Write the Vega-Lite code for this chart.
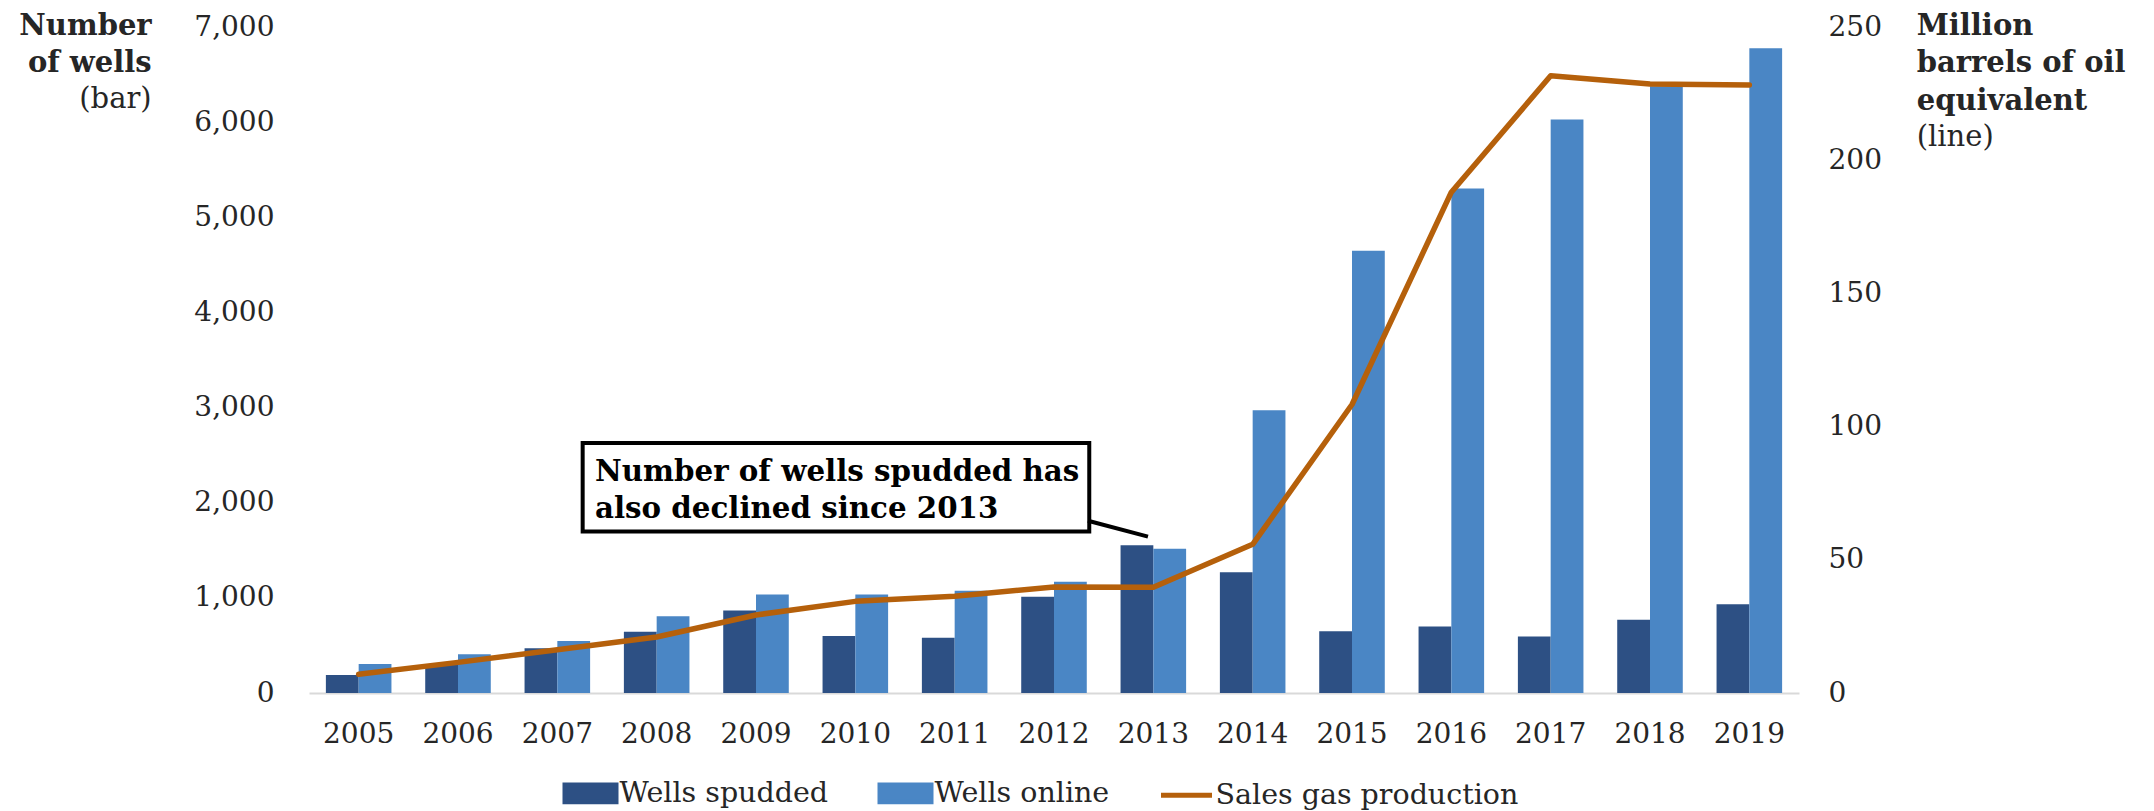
{
  "$schema": "https://vega.github.io/schema/vega-lite/v6.json",
  "width": 1490,
  "height": 666,
  "autosize": {"type": "none"},
  "padding": {"left": 309, "top": 27, "right": 355, "bottom": 118},
  "background": "white",
  "config": {"view": {"stroke": null}, "font": "DejaVu Serif"},
  "datasets": {
    "bars": [
      {"year": 2005, "series": "Wells spudded", "wells": 190},
      {"year": 2005, "series": "Wells online", "wells": 305},
      {"year": 2006, "series": "Wells spudded", "wells": 295},
      {"year": 2006, "series": "Wells online", "wells": 407},
      {"year": 2007, "series": "Wells spudded", "wells": 471},
      {"year": 2007, "series": "Wells online", "wells": 546},
      {"year": 2008, "series": "Wells spudded", "wells": 643},
      {"year": 2008, "series": "Wells online", "wells": 807},
      {"year": 2009, "series": "Wells spudded", "wells": 868},
      {"year": 2009, "series": "Wells online", "wells": 1036},
      {"year": 2010, "series": "Wells spudded", "wells": 600},
      {"year": 2010, "series": "Wells online", "wells": 1035},
      {"year": 2011, "series": "Wells spudded", "wells": 582},
      {"year": 2011, "series": "Wells online", "wells": 1075},
      {"year": 2012, "series": "Wells spudded", "wells": 1012},
      {"year": 2012, "series": "Wells online", "wells": 1170},
      {"year": 2013, "series": "Wells spudded", "wells": 1552},
      {"year": 2013, "series": "Wells online", "wells": 1517},
      {"year": 2014, "series": "Wells spudded", "wells": 1269},
      {"year": 2014, "series": "Wells online", "wells": 2971},
      {"year": 2015, "series": "Wells spudded", "wells": 650},
      {"year": 2015, "series": "Wells online", "wells": 4648},
      {"year": 2016, "series": "Wells spudded", "wells": 700},
      {"year": 2016, "series": "Wells online", "wells": 5302},
      {"year": 2017, "series": "Wells spudded", "wells": 594},
      {"year": 2017, "series": "Wells online", "wells": 6027},
      {"year": 2018, "series": "Wells spudded", "wells": 770},
      {"year": 2018, "series": "Wells online", "wells": 6378},
      {"year": 2019, "series": "Wells spudded", "wells": 932},
      {"year": 2019, "series": "Wells online", "wells": 6777}
    ],
    "gas": [
      {"year": 2005, "mboe": 7},
      {"year": 2006, "mboe": 11.5},
      {"year": 2007, "mboe": 16.2},
      {"year": 2008, "mboe": 21},
      {"year": 2009, "mboe": 29.3},
      {"year": 2010, "mboe": 34.4},
      {"year": 2011, "mboe": 36.3},
      {"year": 2012, "mboe": 39.8},
      {"year": 2013, "mboe": 39.7},
      {"year": 2014, "mboe": 55.8},
      {"year": 2015, "mboe": 108.3},
      {"year": 2016, "mboe": 188},
      {"year": 2017, "mboe": 231.7},
      {"year": 2018, "mboe": 228.6},
      {"year": 2019, "mboe": 228.2}
    ]
  },
  "resolve": {"scale": {"x": "independent", "y": "independent"}},
  "layer": [
    {
      "data": {"name": "bars"},
      "mark": {"type": "bar"},
      "encoding": {
        "x": {
          "field": "year", "type": "ordinal",
          "scale": {"paddingInner": 0.34, "paddingOuter": 0.17},
          "axis": {"title": null, "ticks": false, "domain": true, "domainColor": "#D9D9D9", "domainWidth": 2, "labelAngle": 0, "labelFont": "DejaVu Serif", "labelFontSize": 28, "labelColor": "#262626", "labelPadding": 41, "labelBaseline": "middle", "grid": false}
        },
        "xOffset": {"field": "series", "type": "nominal", "sort": ["Wells spudded", "Wells online"], "scale": {"paddingInner": 0, "paddingOuter": 0}},
        "y": {
          "field": "wells", "type": "quantitative",
          "scale": {"domain": [0, 7000], "nice": false},
          "axis": {"orient": "left", "values": [0, 1000, 2000, 3000, 4000, 5000, 6000, 7000], "format": ",d", "title": null, "ticks": false, "domain": false, "grid": false, "labelFont": "DejaVu Serif", "labelFontSize": 28, "labelColor": "#262626", "labelPadding": 35, "labelBaseline": "middle"}
        },
        "color": {
          "field": "series", "type": "nominal",
          "scale": {"domain": ["Wells spudded", "Wells online", "Sales gas production"], "range": ["#2D5084", "#4A86C5", "#B5600B"]},
          "legend": {
            "orient": "none", "legendX": 253.5, "legendY": 738, "direction": "horizontal", "columns": 3, "title": null, "padding": 0,
            "symbolType": "M-1,-0.327H1V0.327H-1Z", "symbolSize": 2601, "symbolStrokeWidth": 5,
            "labelFont": "DejaVu Serif", "labelFontSize": 28.5, "labelColor": "#262626", "labelOffset": 1, "columnPadding": 41, "labelLimit": 400,
            "encode": {
              "symbols": {
                "update": {
                  "shape": {"signal": "datum.value === 'Sales gas production' ? 'stroke' : 'M-1,-0.327H1V0.327H-1Z'"},
                  "fill": {"signal": "datum.value === 'Sales gas production' ? 'transparent' : scale('color', datum.value)"},
                  "stroke": {"signal": "datum.value === 'Sales gas production' ? scale('color', datum.value) : 'transparent'"},
                  "opacity": {"value": 1}
                }
              }
            }
          }
        }
      }
    },
    {
      "data": {"name": "gas"},
      "mark": {"type": "line", "strokeWidth": 5.5, "strokeCap": "round", "strokeJoin": "round"},
      "encoding": {
        "x": {"field": "year", "type": "quantitative", "scale": {"domain": [2004.5, 2019.5], "nice": false, "zero": false}, "axis": null},
        "y": {
          "field": "mboe", "type": "quantitative",
          "scale": {"domain": [0, 250], "nice": false},
          "axis": {"orient": "right", "values": [0, 50, 100, 150, 200, 250], "title": null, "ticks": false, "domain": false, "grid": false, "labelFont": "DejaVu Serif", "labelFontSize": 28, "labelColor": "#262626", "labelPadding": 29, "labelBaseline": "middle"}
        },
        "color": {"datum": "Sales gas production"}
      }
    },
    {
      "data": {"values": [{}]},
      "layer": [
        {
          "mark": {"type": "rect", "fill": "white", "stroke": "black", "strokeWidth": 4},
          "encoding": {
            "x": {"datum": 2007.255, "type": "quantitative", "scale": {"domain": [2004.5, 2019.5], "nice": false, "zero": false}, "axis": null},
            "x2": {"datum": 2012.355},
            "y": {"datum": 2628, "type": "quantitative", "scale": {"domain": [0, 7000], "nice": false}, "axis": null},
            "y2": {"datum": 1698}
          }
        },
        {
          "mark": {"type": "rule", "stroke": "black", "strokeWidth": 4},
          "encoding": {
            "x": {"datum": 2012.342, "type": "quantitative", "axis": null},
            "x2": {"datum": 2012.946},
            "y": {"datum": 1811, "type": "quantitative", "axis": null},
            "y2": {"datum": 1643}
          }
        },
        {
          "mark": {"type": "text", "font": "DejaVu Serif", "fontWeight": "bold", "fontSize": 29.3, "align": "left", "baseline": "alphabetic", "lineHeight": 36.6, "color": "black"},
          "encoding": {
            "x": {"datum": 2007.379, "type": "quantitative", "axis": null},
            "y": {"datum": 2224, "type": "quantitative", "axis": null},
            "text": {"value": ["Number of wells spudded has", "also declined since 2013"]}
          }
        },
        {
          "mark": {"type": "text", "font": "DejaVu Serif", "fontWeight": "bold", "fontSize": 29, "align": "right", "baseline": "alphabetic", "lineHeight": 37.7, "color": "#262626"},
          "encoding": {
            "x": {"datum": 2002.916, "type": "quantitative", "axis": null},
            "y": {"datum": 6919, "type": "quantitative", "axis": null},
            "text": {"value": ["Number", "of wells"]}
          }
        },
        {
          "mark": {"type": "text", "font": "DejaVu Serif", "fontSize": 29, "align": "right", "baseline": "alphabetic", "color": "#262626"},
          "encoding": {
            "x": {"datum": 2002.916, "type": "quantitative", "axis": null},
            "y": {"datum": 6152, "type": "quantitative", "axis": null},
            "text": {"value": "(bar)"}
          }
        },
        {
          "mark": {"type": "text", "font": "DejaVu Serif", "fontWeight": "bold", "fontSize": 29, "align": "left", "baseline": "alphabetic", "lineHeight": 37.5, "color": "#262626"},
          "encoding": {
            "x": {"datum": 2020.685, "type": "quantitative", "axis": null},
            "y": {"datum": 6919, "type": "quantitative", "axis": null},
            "text": {"value": ["Million", "barrels of oil", "equivalent"]}
          }
        },
        {
          "mark": {"type": "text", "font": "DejaVu Serif", "fontSize": 29, "align": "left", "baseline": "alphabetic", "color": "#262626"},
          "encoding": {
            "x": {"datum": 2020.685, "type": "quantitative", "axis": null},
            "y": {"datum": 5745, "type": "quantitative", "axis": null},
            "text": {"value": "(line)"}
          }
        }
      ]
    }
  ]
}
